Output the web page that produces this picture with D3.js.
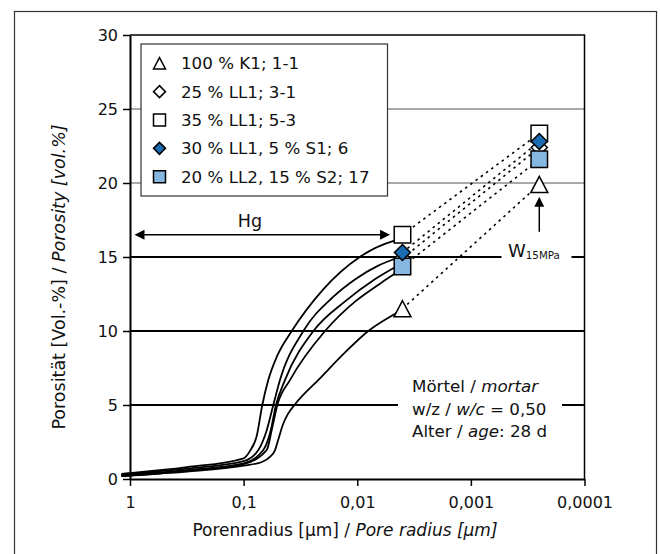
<!DOCTYPE html>
<html>
<head>
<meta charset="utf-8">
<script src="https://cdn.jsdelivr.net/npm/d3@7"></script>
<style>
  body { margin: 0; background: #fff; }
  svg { display: block; font-family: "DejaVu Sans", sans-serif; }
</style>
</head>
<body>
<svg id="chart" width="660" height="554"></svg>
<script>
// legend order
const seriesNames = ["100 % K1; 1-1", "25 % LL1; 3-1", "35 % LL1; 5-3", "30 % LL1, 5 % S1; 6", "20 % LL2, 15 % S2; 17"];
const seriesShapes = ["triangle", "diamond", "square", "diamond", "square"];
const seriesFills = ["#ffffff", "#ffffff", "#ffffff", "#1b6cb0", "#86b7e0"];

// Hg intrusion curves: [pore radius in µm, porosity in vol.-%]
const hgK1 = [[1.19, 0.2], [1, 0.25], [0.315, 0.5], [0.1, 0.9], [0.069, 1.15], [0.0586, 1.5], [0.0529, 1.95], [0.0498, 2.6], [0.045, 3.7], [0.0407, 4.4], [0.0353, 5.05], [0.0213, 6.8], [0.0128, 8.55], [0.008, 10.0], [0.0048, 11.1], [0.0042, 11.35]];
const hgLL1_31 = [[1.19, 0.25], [1, 0.3], [0.315, 0.6], [0.1, 1.05], [0.0671, 1.96], [0.0577, 3.3], [0.0519, 5.0], [0.0432, 6.7], [0.0243, 10.0], [0.0128, 12.0], [0.007, 13.5], [0.0042, 14.5]];
const hgLL1_53 = [[1.19, 0.35], [1, 0.4], [0.315, 0.8], [0.1, 1.4], [0.0878, 1.9], [0.0767, 2.9], [0.0685, 5.0], [0.0606, 6.7], [0.0508, 8.3], [0.0377, 10.0], [0.02, 12.8], [0.0095, 15.0], [0.0047, 16.1], [0.0042, 16.2]];
const hgLL1S1_6 = [[1.19, 0.3], [1, 0.35], [0.315, 0.7], [0.1, 1.2], [0.0742, 1.96], [0.0626, 3.3], [0.0548, 5.0], [0.0478, 6.7], [0.0298, 10.0], [0.0163, 12.3], [0.0104, 13.5], [0.0066, 14.4], [0.0042, 15.0]];
const hgLL2S2_17 = [[1.19, 0.2], [1, 0.22], [0.315, 0.55], [0.1, 1.0], [0.0626, 1.96], [0.0566, 3.3], [0.0505, 5.0], [0.039, 6.7], [0.0192, 10.0], [0.0104, 12.0], [0.0063, 13.2], [0.0042, 14.1]];
const hgCurves = [hgK1, hgLL1_31, hgLL1_53, hgLL1S1_6, hgLL2S2_17];

// end of Hg measurement and water porosity at 15 MPa
const hgEndRadius = 0.004;
const hgEndPorosity = [11.5, 14.9, 16.5, 15.3, 14.35];
const waterRadius = 0.00025;
const waterPorosity = [19.9, 22.4, 23.35, 22.8, 21.6];

const xTicks = [1, 0.1, 0.01, 0.001, 0.0001];
const xTickLabels = ["1", "0,1", "0,01", "0,001", "0,0001"];
const yTicks = [0, 5, 10, 15, 20, 25, 30];
const gridDark = [5, 10, 15];
const gridLight = [20, 25];

const svg = d3.select("#chart");
const x = d3.scaleLog().domain([1, 0.0001]).range([130, 584.5]);
const y = d3.scaleLinear().domain([0, 30]).range([479, 35]);

// outer frame
svg.append("rect")
  .attr("x", 14.5).attr("y", 11.5).attr("width", 642).attr("height", 560)
  .attr("fill", "none").attr("stroke", "#333").attr("stroke-width", 1.2);

// horizontal grid lines
svg.selectAll(".gridL").data(gridLight).enter().append("line")
  .attr("x1", x(1)).attr("x2", x(0.0001))
  .attr("y1", d => y(d)).attr("y2", d => y(d))
  .attr("stroke", "#555").attr("stroke-width", 1);
svg.selectAll(".gridD").data(gridDark).enter().append("line")
  .attr("x1", x(1)).attr("x2", x(0.0001))
  .attr("y1", d => y(d)).attr("y2", d => y(d))
  .attr("stroke", "#000").attr("stroke-width", 2);

// white boxes behind the annotations cut the grid lines
svg.append("rect").attr("x", 501.5).attr("y", y(15) - 6).attr("width", 70).attr("height", 12).attr("fill", "#fff");
svg.append("rect").attr("x", 398).attr("y", y(5) - 6).attr("width", 164).attr("height", 12).attr("fill", "#fff");

// axes
const yAxis = svg.append("g").attr("transform", `translate(${x(1)},0)`)
  .call(d3.axisLeft(y).tickValues(yTicks).tickSize(7).tickPadding(5).tickSizeOuter(0));
const xAxis = svg.append("g").attr("transform", `translate(0,${y(0)})`)
  .call(d3.axisBottom(x).tickValues(xTicks).tickFormat((d, i) => xTickLabels[i]).tickSize(7).tickPadding(11).tickSizeOuter(0));
[xAxis, yAxis].forEach(a => {
  a.select(".domain").attr("stroke", "#000").attr("stroke-width", 2);
  a.selectAll(".tick line").attr("stroke", "#000").attr("stroke-width", 1.5);
  a.selectAll(".tick text").attr("fill", "#111").style("font-size", "16px").style("font-family", "DejaVu Sans");
});
// top and right edge of the plot
svg.append("path")
  .attr("d", `M${x(1)},${y(30)}H${x(0.0001)}V${y(0)}`)
  .attr("fill", "none").attr("stroke", "#000").attr("stroke-width", 1.5);

// Hg curves
const line = d3.line().x(d => x(d[0])).y(d => y(d[1])).curve(d3.curveMonotoneX);
svg.selectAll(".hg").data(hgCurves).enter().append("path")
  .attr("d", line).attr("fill", "none").attr("stroke", "#000").attr("stroke-width", 1.8);

// dotted links Hg end -> W15MPa
svg.selectAll(".link").data(d3.range(5)).enter().append("line")
  .attr("x1", x(hgEndRadius)).attr("y1", i => y(hgEndPorosity[i]))
  .attr("x2", x(waterRadius)).attr("y2", i => y(waterPorosity[i]))
  .attr("stroke", "#000").attr("stroke-width", 1.6).attr("stroke-dasharray", "2.5,4");

// arrow heads
function arrowHead(xTip, yTip, dir) {
  // dir: "left", "right", "up"
  const L = 10, W = 5;
  let d;
  if (dir === "left") d = `M${xTip},${yTip}L${xTip + L},${yTip - W}L${xTip + L},${yTip + W}Z`;
  else if (dir === "right") d = `M${xTip},${yTip}L${xTip - L},${yTip - W}L${xTip - L},${yTip + W}Z`;
  else d = `M${xTip},${yTip}L${xTip - W},${yTip + L}L${xTip + W},${yTip + L}Z`;
  svg.append("path").attr("d", d).attr("fill", "#000");
}

// Hg range arrow
const hgArrowY = y(16.5);
svg.append("line").attr("x1", x(0.913) + 4).attr("x2", x(0.00514) - 4)
  .attr("y1", hgArrowY).attr("y2", hgArrowY).attr("stroke", "#000").attr("stroke-width", 1.5);
arrowHead(x(0.913), hgArrowY, "left");
arrowHead(x(0.00514), hgArrowY, "right");
svg.append("text").attr("x", 250).attr("y", hgArrowY - 8).attr("text-anchor", "middle")
  .style("font-size", "17.5px").attr("fill", "#111").text("Hg");

// W15MPa arrow
const wx = x(waterRadius);
svg.append("line").attr("x1", wx).attr("x2", wx).attr("y1", y(16.7)).attr("y2", y(19.07) + 5)
  .attr("stroke", "#000").attr("stroke-width", 1.5);
arrowHead(wx, y(19.07), "up");
const wLabel = svg.append("text").attr("x", 508).attr("y", y(15) - 0.5).attr("fill", "#111");
wLabel.append("tspan").style("font-size", "18px").text("W");
wLabel.append("tspan").style("font-size", "10.3px").attr("dy", 2.5).text("15MPa");

// markers
function shapePath(shape, s) {
  const h = s / 2;
  if (shape === "square") return `M${-h},${-h}H${h}V${h}H${-h}Z`;
  if (shape === "diamond") return `M0,${-h}L${h},0L0,${h}L${-h},0Z`;
  const t = s * 0.95 / 2;
  return `M0,${-t}L${h},${t}L${-h},${t}Z`;
}
const markerSize = { triangle: 17, diamond: 16, square: 16.5 };
const drawOrder = [1, 0, 2, 4, 3];
[[hgEndRadius, hgEndPorosity], [waterRadius, waterPorosity]].forEach(([r, vals]) => {
  svg.selectAll(null).data(drawOrder).enter().append("path")
    .attr("transform", i => `translate(${x(r)},${y(vals[i])})`)
    .attr("d", i => shapePath(seriesShapes[i], markerSize[seriesShapes[i]]))
    .attr("fill", i => seriesFills[i]).attr("stroke", "#000").attr("stroke-width", 1.5);
});

// legend
const legend = svg.append("g").attr("transform", "translate(141,44)");
legend.append("rect").attr("width", 246.5).attr("height", 152)
  .attr("fill", "#fff").attr("stroke", "#333").attr("stroke-width", 1.2);
const rows = legend.selectAll(".row").data(seriesNames).enter().append("g")
  .attr("transform", (d, i) => `translate(0,${19.3 + i * 28.35})`);
rows.append("path")
  .attr("transform", "translate(18.5,0)")
  .attr("d", (d, i) => shapePath(seriesShapes[i], 12))
  .attr("fill", (d, i) => seriesFills[i]).attr("stroke", "#000").attr("stroke-width", 1.5);
rows.append("text").attr("x", 40).attr("y", 6).style("font-size", "16.7px").attr("fill", "#111").text(d => d);

// mortar annotation
const note = svg.append("g").style("font-size", "16.7px").attr("fill", "#111");
const n1 = note.append("text").attr("x", 412).attr("y", 392);
n1.append("tspan").text("Mörtel / ");
n1.append("tspan").style("font-style", "italic").text("mortar");
const n2 = note.append("text").attr("x", 412).attr("y", 414.5);
n2.append("tspan").text("w/z / ");
n2.append("tspan").style("font-style", "italic").text("w/c");
n2.append("tspan").text(" = 0,50");
const n3 = note.append("text").attr("x", 412).attr("y", 437);
n3.append("tspan").text("Alter / ");
n3.append("tspan").style("font-style", "italic").text("age");
n3.append("tspan").text(": 28 d");

// axis titles
const xt = svg.append("text").attr("x", 345).attr("y", 536).attr("text-anchor", "middle")
  .style("font-size", "17px").attr("fill", "#111");
xt.append("tspan").text("Porenradius [µm] / ");
xt.append("tspan").style("font-style", "italic").text("Pore radius [µm]");
const yt = svg.append("text").attr("transform", "translate(65,277) rotate(-90)").attr("text-anchor", "middle")
  .style("font-size", "17.5px").attr("fill", "#111");
yt.append("tspan").text("Porosität [Vol.-%] / ");
yt.append("tspan").style("font-style", "italic").text("Porosity [vol.%]");
</script>
</body>
</html>
